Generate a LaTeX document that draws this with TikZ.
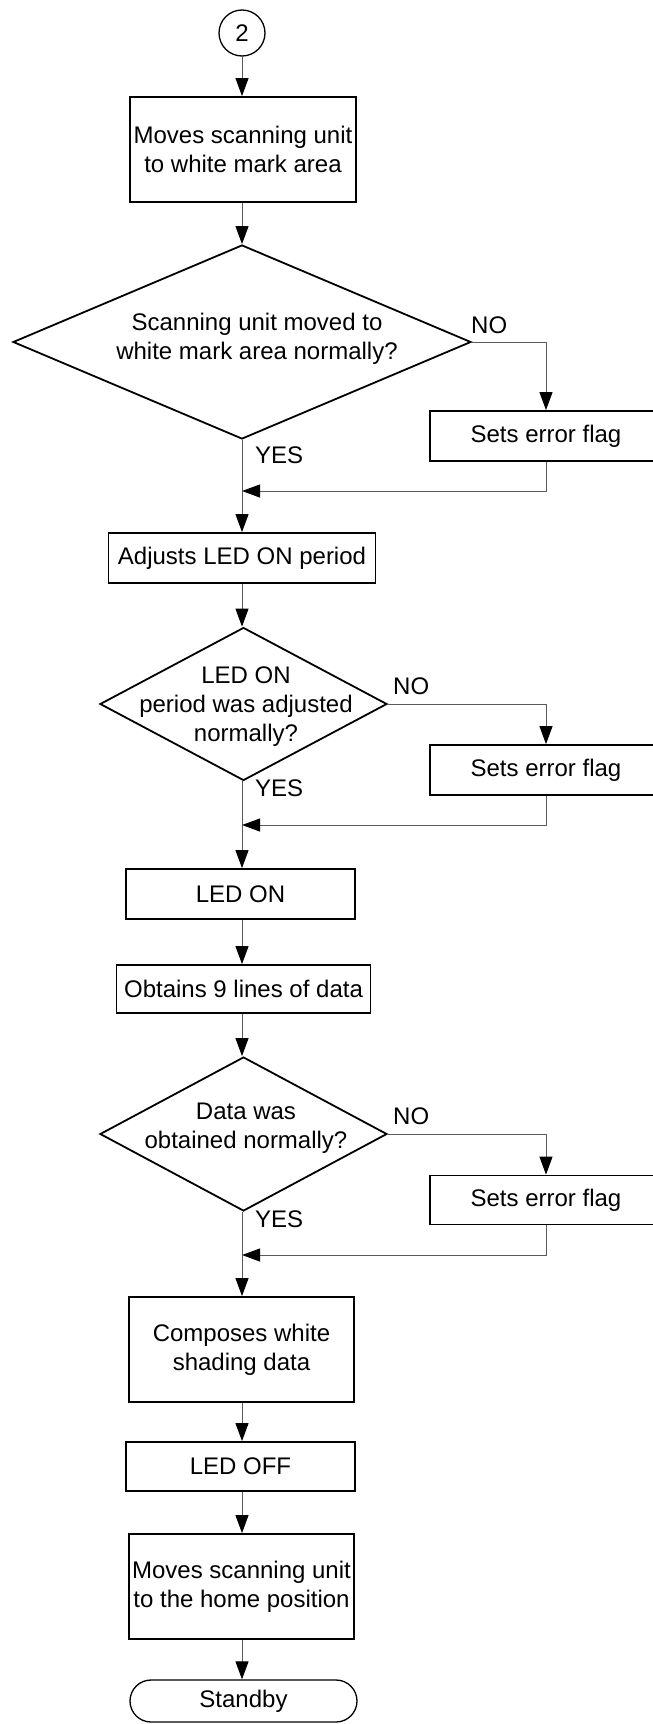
\documentclass[tikz,border=0pt]{standalone}
\usepackage{fontspec}
\setmainfont{Liberation Sans}
\usetikzlibrary{arrows.meta,shapes.geometric}
\definecolor{linegray}{HTML}{5A5A5A}
\begin{document}
\begin{tikzpicture}[x=1pt,y=-1pt,
  font=\fontsize{24}{29}\selectfont,
  stepbox/.style={draw=black,line width=1.8pt,rectangle,inner sep=0pt,align=center},
  decision/.style={draw=black,line width=1.8pt,diamond,inner sep=0pt},
  qtext/.style={align=center,inner sep=0pt},
  lbl/.style={anchor=west,inner sep=0pt},
  flow/.style={draw=linegray,line width=1pt,-{Triangle[length=18pt,width=13pt,color=black]}},
  plain/.style={draw=linegray,line width=1pt}]
\useasboundingbox (0,0) rectangle (653,1724);

% connector and first step
\node[draw=black,line width=1.3pt,circle,minimum size=46pt,inner sep=0pt] (c2) at (242,33) {2};
\node[stepbox,minimum width=226pt,minimum height=105pt] (b1) at (243,149.5) {Moves scanning unit\\to white mark area};

% first check
\node[decision,minimum width=458pt,minimum height=194pt] (d1) at (242,342) {};
\node[qtext] (t1) at (257,339) {Scanning unit moved to\\white mark area normally?};
\node[stepbox,minimum width=232pt,minimum height=50pt] (e1) at (546,436) {Sets error flag};
\node[lbl] (no1) at (471,325) {NO};
\node[lbl] (yes1) at (255,455) {YES};
\coordinate (j1) at (242,491);

\node[stepbox,minimum width=267pt,minimum height=50pt] (b2) at (242,558) {Adjusts LED ON period};

% second check
\node[decision,minimum width=287pt,minimum height=153pt] (d2) at (243.5,704) {};
\node[qtext] (t2) at (246,707) {LED ON\\period was adjusted\\normally?};
\node[stepbox,minimum width=232pt,minimum height=50pt] (e2) at (546,770) {Sets error flag};
\node[lbl] (no2) at (393,686) {NO};
\node[lbl] (yes2) at (255,788) {YES};
\coordinate (j2) at (242,825);

\node[stepbox,minimum width=229pt,minimum height=50pt] (b3) at (240.5,894) {LED ON};
\node[stepbox,minimum width=254pt,minimum height=48pt] (b4) at (243.5,989) {Obtains 9 lines of data};

% third check
\node[decision,minimum width=287pt,minimum height=154pt] (d3) at (243.5,1134) {};
\node[qtext] (t3) at (246,1128.5) {Data was\\obtained normally?};
\node[stepbox,minimum width=232pt,minimum height=49pt] (e3) at (546,1200) {Sets error flag};
\node[lbl] (no3) at (393,1116) {NO};
\node[lbl] (yes3) at (255,1219) {YES};
\coordinate (j3) at (242,1255);

\node[stepbox,minimum width=225pt,minimum height=105pt] (b5) at (241.5,1349.5) {Composes white\\shading data};
\node[stepbox,minimum width=229pt,minimum height=49pt] (b6) at (240.5,1466.5) {LED OFF};
\node[stepbox,minimum width=225pt,minimum height=105pt] (b7) at (241.5,1586.5) {Moves scanning unit\\to the home position};
\node[draw=black,line width=1.3pt,rectangle,rounded corners=21pt,minimum width=227pt,minimum height=42pt,inner sep=0pt] (s) at (243.5,1701) {Standby};

% connectors
\draw[flow] (c2.south) -- (c2.south |- b1.north);
\draw[flow] (b1.south -| c2) -- (c2 |- d1.north);
\draw[flow] (d1.east) -| (e1.north);
\draw[plain] (d1.south) -- (j1);
\draw[flow] (e1.south) |- (j1);
\draw[flow] (j1) -- (j1 |- b2.north);
\draw[flow] (b2.south -| j1) -- (j1 |- d2.north);
\draw[flow] (d2.east) -| (e2.north);
\draw[plain] (j2 |- d2.south) -- (j2);
\draw[flow] (e2.south) |- (j2);
\draw[flow] (j2) -- (j2 |- b3.north);
\draw[flow] (b3.south -| j2) -- (j2 |- b4.north);
\draw[flow] (b4.south -| j2) -- (j2 |- d3.north);
\draw[flow] (d3.east) -| (e3.north);
\draw[plain] (j3 |- d3.south) -- (j3);
\draw[flow] (e3.south) |- (j3);
\draw[flow] (j3) -- (j3 |- b5.north);
\draw[flow] (b5.south -| j3) -- (j3 |- b6.north);
\draw[flow] (b6.south -| j3) -- (j3 |- b7.north);
\draw[flow] (b7.south -| j3) -- (j3 |- s.north);
\end{tikzpicture}
\end{document}
